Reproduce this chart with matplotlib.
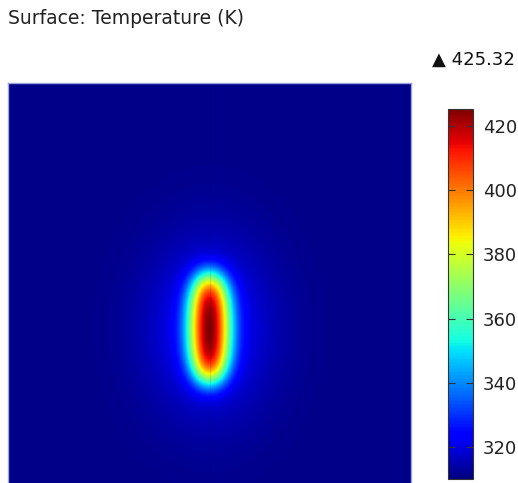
import numpy as np
import matplotlib
matplotlib.use("Agg")
import matplotlib.pyplot as plt

# temperature field (K)
t_ambient = 311.0
t_max = 425.32
t_min_scale = 310.0
cbar_ticks = [320, 340, 360, 380, 400, 420]

# domain (mm) and heated spot
domain_w, domain_h = 40.0, 40.5
spot_center = (20.0, 16.1)
spot_semi_axes = (1.6, 5.4)    # heated super-ellipse
spot_shape = 2.6
spot_blur = (1.05, 1.15)       # conduction spread, x / y
halo_amp = 14.0
halo_width = (6.0, 8.5)

n = 500
x = np.linspace(0, domain_w, n)
y = np.linspace(0, domain_h, n)
X, Y = np.meshgrid(x, y)
step = x[1] - x[0]


def gauss_kernel(sigma):
    k = np.arange(-int(4 * sigma / step), int(4 * sigma / step) + 1) * step
    g = np.exp(-0.5 * (k / sigma) ** 2)
    return g / g.sum()


# blurred super-ellipse
mask = (np.abs((X - spot_center[0]) / spot_semi_axes[0]) ** spot_shape +
        np.abs((Y - spot_center[1]) / spot_semi_axes[1]) ** spot_shape <= 1).astype(float)
kx, ky = gauss_kernel(spot_blur[0]), gauss_kernel(spot_blur[1])
core = np.apply_along_axis(lambda r: np.convolve(r, kx, mode="same"), 1, mask)
core = np.apply_along_axis(lambda c: np.convolve(c, ky, mode="same"), 0, core)
core /= core.max()

hx = (X - spot_center[0]) / halo_width[0]
hy = (Y - spot_center[1]) / halo_width[1]
halo = np.exp(-hx**2 - hy**2)
T = t_ambient + halo_amp * halo + (t_max - t_ambient - halo_amp) * core

fig = plt.figure(figsize=(5.18, 4.83), dpi=100)
ax = fig.add_axes([8 / 518, -7 / 483, 403 / 518, 407 / 483])
im = ax.imshow(T, origin="lower", extent=(0, domain_w, 0, domain_h),
               cmap="jet", vmin=t_min_scale, vmax=t_max, aspect="auto",
               interpolation="bilinear")
ax.axvline(spot_center[0], color="#000040", lw=0.6, alpha=0.15)
ax.set_xticks([])
ax.set_yticks([])
for s in ax.spines.values():
    s.set_color("#9aa6d8")
    s.set_linewidth(1.0)

cax = fig.add_axes([448 / 518, 4 / 483, 25 / 518, 370 / 483])
cb = fig.colorbar(im, cax=cax, ticks=cbar_ticks)
cb.outline.set_linewidth(0.8)
cb.outline.set_edgecolor("#333333")
cax.tick_params(direction="in", left=True, right=True, length=5, width=0.8,
                color="#333333", labelsize=13, labelcolor="#222222", pad=7)

fig.text(8 / 518, 1 - 18 / 483, "Surface: Temperature (K)", fontsize=13.5,
         va="center", ha="left", color="#222222")
fig.text(515 / 518, 1 - 60 / 483, "\u25b2 425.32", fontsize=13,
         va="center", ha="right", color="#111111")

fig.savefig("out.png", dpi=100)
